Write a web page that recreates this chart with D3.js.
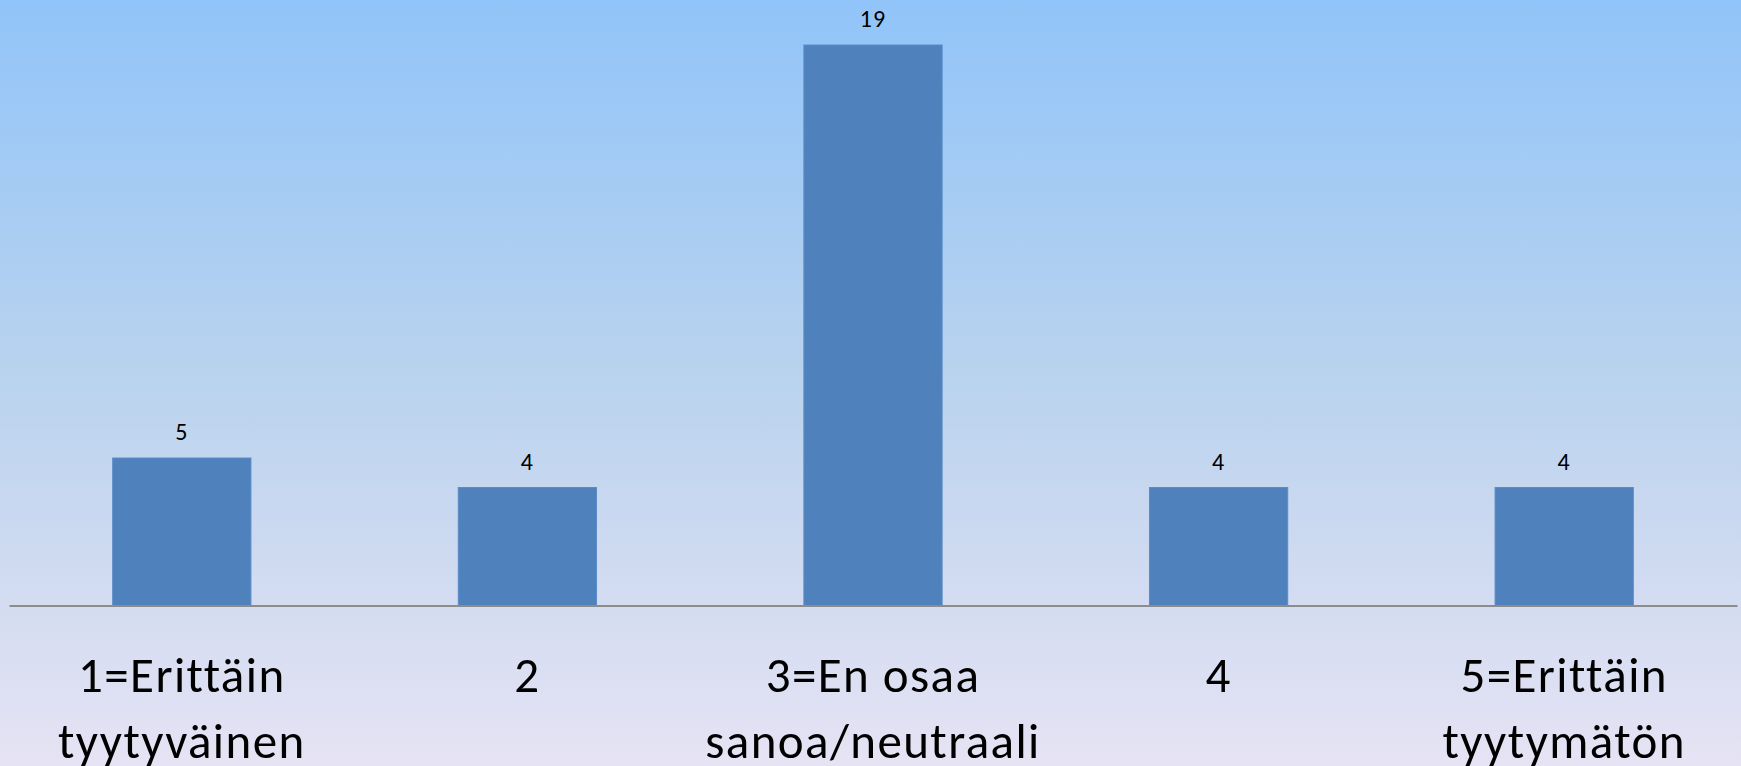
<!DOCTYPE html>
<html>
<head>
<meta charset="utf-8">
<script src="https://cdn.jsdelivr.net/npm/d3@7"></script>
<style>
    body { margin: 0; overflow: hidden; }
    text { font-family: Carlito, Calibri, Lato, sans-serif; fill: #000; }
</style>
</head>
<body>
<script>
// Chart data
var categories = ["1=Erittäin tyytyväinen", "2", "3=En osaa sanoa/neutraali", "4", "5=Erittäin tyytymätön"];
var categoryLines = [["1=Erittäin", "tyytyväinen"], ["2"], ["3=En osaa", "sanoa/neutraali"], ["4"], ["5=Erittäin", "tyytymätön"]];
var values = [5, 4, 19, 4, 4];

window.onload = function() {
    drawChart();
};

function drawChart() {
    /*
     * Draws the bar chart with a gradient background
     */
    var svgWidth = 1741;
    var svgHeight = 766;

    var padding = { top: 45, right: 4, bottom: 160.5, left: 9 };
    var chartWidth = svgWidth - padding.left - padding.right;
    var chartHeight = svgHeight - padding.top - padding.bottom;

    const svg = d3.select("body").append("svg")
        .attr("width", svgWidth)
        .attr("height", svgHeight);

    // Background gradient
    var defs = svg.append("defs");
    var grad = defs.append("linearGradient")
        .attr("id", "bg")
        .attr("x1", 0).attr("y1", 0)
        .attr("x2", 0).attr("y2", 1);
    grad.append("stop").attr("offset", "0%").attr("stop-color", "#91c4f9");
    grad.append("stop").attr("offset", "50%").attr("stop-color", "#bad3ee");
    grad.append("stop").attr("offset", "100%").attr("stop-color", "#e6e3f4");

    svg.append("rect")
        .attr("width", svgWidth)
        .attr("height", svgHeight)
        .attr("fill", "url(#bg)");

    const chart = svg.append("g")
        .attr("transform", `translate(${padding.left}, ${padding.top})`);

    const xScale = d3.scaleBand()
        .domain(categories)
        .range([0, chartWidth])
        .paddingInner(0.6)
        .paddingOuter(0.3);

    const yScale = d3.scaleLinear()
        .domain([0, 19])
        .range([chartHeight, 0]);

    // Bars
    chart.selectAll(".bar")
        .data(values)
        .enter()
        .append("rect")
        .attr("class", "bar")
        .attr("x", (d, i) => xScale(categories[i]))
        .attr("y", d => yScale(d))
        .attr("width", xScale.bandwidth())
        .attr("height", d => chartHeight - yScale(d))
        .attr("fill", "#4f81bd")
        .attr("stroke", "#5b8cc6")
        .attr("stroke-width", 1);

    // Value labels
    chart.selectAll(".value")
        .data(values)
        .enter()
        .append("text")
        .attr("class", "value")
        .attr("x", (d, i) => xScale(categories[i]) + xScale.bandwidth() / 2)
        .attr("y", d => yScale(d) - 18)
        .attr("text-anchor", "middle")
        .style("font-size", "24px")
        .style("letter-spacing", "1px")
        .text(d => d);

    // X axis
    const xAxis = chart.append("g")
        .attr("transform", `translate(0, ${chartHeight})`)
        .call(d3.axisBottom(xScale).tickSize(0).tickFormat(""));
    xAxis.select(".domain")
        .attr("stroke", "#8c8c8c")
        .attr("stroke-width", 2);

    // Category labels on two lines
    var labels = chart.selectAll(".cat")
        .data(categoryLines)
        .enter()
        .append("text")
        .attr("class", "cat")
        .attr("text-anchor", "middle")
        .attr("x", (d, i) => xScale(categories[i]) + xScale.bandwidth() / 2)
        .attr("y", chartHeight + 86)
        .style("font-size", "49px")
        .style("letter-spacing", "1.4px");

    labels.selectAll("tspan")
        .data(d => d)
        .enter()
        .append("tspan")
        .attr("x", function() { return d3.select(this.parentNode).attr("x"); })
        .attr("dy", (d, i) => i === 0 ? 0 : 66)
        .text(d => d);
}
</script>
</body>
</html>
